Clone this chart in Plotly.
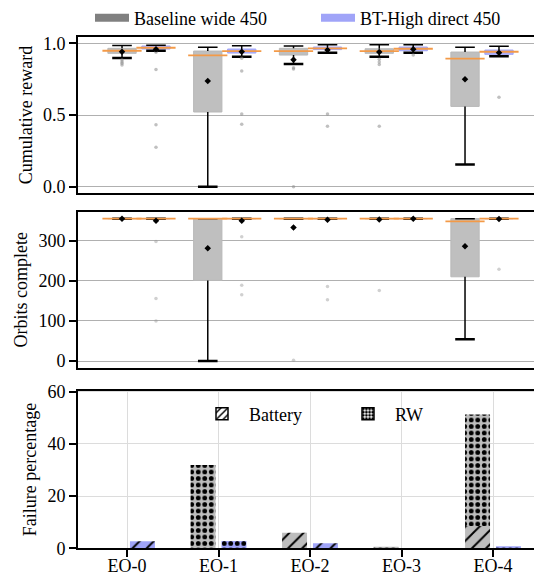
import plotly.graph_objects as go

# ---------------- data ----------------
categories = ["EO-0", "EO-1", "EO-2", "EO-3", "EO-4"]
series_names = ["Baseline wide 450", "BT-High direct 450"]

# Cumulative reward box statistics
rew_b_q1 = [0.930, 0.521, 0.918, 0.930, 0.560]
rew_b_med = [0.948, 0.916, 0.946, 0.946, 0.893]
rew_b_q3 = [0.965, 0.946, 0.965, 0.962, 0.939]
rew_b_lo = [0.897, 0.000, 0.856, 0.906, 0.155]
rew_b_hi = [0.985, 0.972, 0.981, 0.990, 0.972]
rew_b_mean = [0.941, 0.737, 0.886, 0.939, 0.750]
rew_b_fliers = [[0.883, 0.872, 0.860, 0.848], [], [0.830, 0.820, 0.0],
                [0.888, 0.870, 0.853, 0.421], []]

rew_t_q1 = [0.960, 0.932, 0.956, 0.948, 0.923]
rew_t_med = [0.969, 0.946, 0.965, 0.962, 0.941]
rew_t_q3 = [0.981, 0.960, 0.974, 0.974, 0.953]
rew_t_lo = [0.948, 0.906, 0.934, 0.934, 0.909]
rew_t_hi = [0.986, 0.983, 0.990, 0.990, 0.979]
rew_t_mean = [0.958, 0.941, 0.953, 0.958, 0.934]
rew_t_fliers = [[0.937, 0.818, 0.432, 0.275], [0.895, 0.807, 0.507, 0.435],
                [0.507, 0.421], [0.918], [0.623]]

# Orbits complete box statistics
orb_b_q1 = [355, 201, 355, 355, 210]
orb_b_med = [355, 355, 355, 355, 348]
orb_b_q3 = [355, 355, 355, 355, 355]
orb_b_lo = [355, 0, 355, 355, 54]
orb_b_hi = [355, 355, 355, 355, 355]
orb_b_mean = [355, 281, 333, 353, 286]
orb_b_fliers = [[], [], [2], [176], []]

orb_t_q1 = [355, 355, 355, 355, 355]
orb_t_med = [355, 355, 355, 355, 355]
orb_t_q3 = [355, 355, 355, 355, 355]
orb_t_lo = [355, 355, 355, 355, 355]
orb_t_hi = [355, 355, 355, 355, 355]
orb_t_mean = [350, 350, 352, 355, 354]
orb_t_fliers = [[298, 156, 100], [310, 189, 165], [186, 153], [], [229]]

# Failure percentage
battery_b = [0.0, 0.0, 6.0, 0.0, 8.5]
rw_b = [0.0, 31.9, 0.0, 0.6, 42.8]
battery_t = [2.7, 0.0, 1.9, 0.0, 0.0]
rw_t = [0.0, 2.8, 0.0, 0.0, 0.8]

# ---------------- style ----------------
W, H = 534, 578
FONT = "Liberation Serif"
GRAY_LEG = "#808080"
BLUE_LEG = "#a0a4f8"
BOX_B_FILL, BOX_B_EDGE = "#bfbfbf", "#b8b8b8"
BOX_T_FILL, BOX_T_EDGE = "rgba(150,154,246,0.8)", "#a0a4f8"
BAR_B, BAR_T = "#bdbdbd", "#a0a4f8"
ORANGE = "#f39a48"
GRID = "#b0b0b0"
GRID_L = "#dcdcdc"

BOX_OFF, BOX_W = 0.198, 0.33
BAR_OFF, BAR_W = 0.169, 0.273


def ydom(top_px, bot_px):
    return [1 - bot_px / H, 1 - top_px / H]


fig = go.Figure()
idx = list(range(len(categories)))


def add_boxes(pos, q1, med, q3, lo, hi, mean, fliers, fill, edge, xa, ya, fl_color):
    fig.add_trace(go.Bar(x=pos, y=[b - a for a, b in zip(q1, q3)], base=q1, width=BOX_W,
                         marker=dict(color=fill, line=dict(color=edge, width=1)),
                         xaxis=xa, yaxis=ya, showlegend=False, hoverinfo="skip"))
    wx, wy = [], []
    for x, a, b, l, h in zip(pos, q1, q3, lo, hi):
        wx += [x, x, None, x, x, None]
        wy += [b, h, None, a, l, None]
    fig.add_trace(go.Scatter(x=wx, y=wy, mode="lines", line=dict(color="black", width=1.5),
                             xaxis=xa, yaxis=ya, showlegend=False, hoverinfo="skip"))
    fig.add_trace(go.Scatter(x=pos, y=hi, mode="markers",
                             marker=dict(symbol="line-ew", size=14, line=dict(color="black", width=1.5)),
                             xaxis=xa, yaxis=ya, showlegend=False, hoverinfo="skip"))
    fig.add_trace(go.Scatter(x=pos, y=lo, mode="markers",
                             marker=dict(symbol="line-ew", size=14, line=dict(color="black", width=2.5)),
                             xaxis=xa, yaxis=ya, showlegend=False, hoverinfo="skip"))
    fig.add_trace(go.Scatter(x=pos, y=med, mode="markers",
                             marker=dict(symbol="line-ew", size=28, line=dict(color=ORANGE, width=1.8)),
                             xaxis=xa, yaxis=ya, showlegend=False, hoverinfo="skip"))
    fx, fy = [], []
    for x, fl in zip(pos, fliers):
        fx += [x] * len(fl)
        fy += fl
    fig.add_trace(go.Scatter(x=fx, y=fy, mode="markers",
                             marker=dict(symbol="circle", size=3.5, color=fl_color),
                             xaxis=xa, yaxis=ya, showlegend=False, hoverinfo="skip"))
    fig.add_trace(go.Scatter(x=pos, y=mean, mode="markers",
                             marker=dict(symbol="diamond", size=5, color="black"),
                             xaxis=xa, yaxis=ya, showlegend=False, hoverinfo="skip"))


pos_b = [i - BOX_OFF for i in idx]
pos_t = [i + BOX_OFF for i in idx]

add_boxes(pos_b, rew_b_q1, rew_b_med, rew_b_q3, rew_b_lo, rew_b_hi, rew_b_mean, rew_b_fliers,
          BOX_B_FILL, BOX_B_EDGE, "x", "y", "rgba(140,140,140,0.55)")
add_boxes(pos_t, rew_t_q1, rew_t_med, rew_t_q3, rew_t_lo, rew_t_hi, rew_t_mean, rew_t_fliers,
          BOX_T_FILL, BOX_T_EDGE, "x", "y", "rgba(140,140,140,0.55)")
add_boxes(pos_b, orb_b_q1, orb_b_med, orb_b_q3, orb_b_lo, orb_b_hi, orb_b_mean, orb_b_fliers,
          BOX_B_FILL, BOX_B_EDGE, "x2", "y2", "rgba(150,150,150,0.45)")
add_boxes(pos_t, orb_t_q1, orb_t_med, orb_t_q3, orb_t_lo, orb_t_hi, orb_t_mean, orb_t_fliers,
          BOX_T_FILL, BOX_T_EDGE, "x2", "y2", "rgba(150,150,150,0.45)")

# failure bars
bar_b = [i - BAR_OFF for i in idx]
bar_t = [i + BAR_OFF for i in idx]
hatch = dict(shape="/", fgcolor="black", size=10, solidity=0.2)
dots = dict(shape=".", fgcolor="black", size=6.5, solidity=0.42)
for xs, bat, rw, col in [(bar_b, battery_b, rw_b, BAR_B), (bar_t, battery_t, rw_t, BAR_T)]:
    fig.add_trace(go.Bar(x=xs, y=bat, width=BAR_W,
                         marker=dict(color=col, line=dict(width=0), pattern=dict(bgcolor=col, **hatch)),
                         xaxis="x3", yaxis="y3", showlegend=False, hoverinfo="skip"))
    fig.add_trace(go.Bar(x=xs, y=rw, base=bat, width=BAR_W,
                         marker=dict(color=col, line=dict(width=0), pattern=dict(bgcolor=col, **dots)),
                         xaxis="x3", yaxis="y3", showlegend=False, hoverinfo="skip"))

# legends
for name, col, lg in zip(series_names, [GRAY_LEG, BLUE_LEG], ["legend", "legend3"]):
    fig.add_trace(go.Scatter(x=[None], y=[None], mode="lines", name=name,
                             line=dict(color=col, width=8), xaxis="x", yaxis="y",
                             legend=lg))
fig.add_trace(go.Bar(x=[None], y=[None], name="Battery", legend="legend2",
                     marker=dict(color="white", line=dict(color="black", width=1.5),
                                 pattern=dict(shape="/", fgcolor="black", bgcolor="white", size=6, solidity=0.3)),
                     xaxis="x3", yaxis="y3"))
fig.add_trace(go.Bar(x=[None], y=[None], name="RW", legend="legend4",
                     marker=dict(color="white", line=dict(color="black", width=1.5),
                                 pattern=dict(shape=".", fgcolor="black", bgcolor="white", size=4, solidity=0.6)),
                     xaxis="x3", yaxis="y3"))

xdom = [78 / W, 1.0]
axline = dict(showline=True, linecolor="black", linewidth=1.8, zeroline=False)
tickf = dict(family=FONT, size=18, color="black")
titlef = dict(family=FONT, size=18, color="black")
legf = dict(family=FONT, size=18, color="black")


def leg(xpx, ypx, iw):
    return dict(orientation="h", x=xpx / W, xanchor="left", y=1 - ypx / H, yanchor="middle",
                bgcolor="rgba(0,0,0,0)", font=legf, itemwidth=iw)


xa_box = dict(domain=xdom, range=[(78 - 139) / 85.75, (534 - 139) / 85.75], showticklabels=False,
              ticks="", showgrid=False, mirror=True, **axline)
fig.update_layout(
    width=W, height=H, template="none",
    margin=dict(l=0, r=0, t=0, b=0, autoexpand=False),
    paper_bgcolor="white", plot_bgcolor="white",
    barmode="overlay",
    font=dict(family=FONT, size=18, color="black"),
    xaxis=dict(anchor="y", **xa_box),
    xaxis2=dict(anchor="y2", **xa_box),
    xaxis3=dict(anchor="y3", domain=xdom, range=[(78 - 127) / 91.5, (534 - 127) / 91.5],
                tickvals=idx, ticktext=categories, ticks="outside", ticklen=7, tickwidth=1.5,
                tickcolor="black", tickfont=tickf, ticklabelstandoff=-7,
                showgrid=True, gridcolor=GRID_L, gridwidth=1,
                mirror=True, **axline),
    yaxis=dict(anchor="x", domain=ydom(36.7, 193.3), range=[-0.046, 1.046],
               tickvals=[0, 0.5, 1.0], ticktext=["0.0", "0.5", "1.0"], ticks="outside",
               ticklen=7, tickwidth=1.5, tickcolor="black", tickfont=tickf,
               showgrid=True, gridcolor=GRID, gridwidth=1, mirror=False,
               title=dict(text="Cumulative reward", font=titlef, standoff=6), **axline),
    yaxis2=dict(anchor="x2", domain=ydom(211.7, 367.7), range=[-16.7, 372.3],
                tickvals=[0, 100, 200, 300], ticks="outside",
                ticklen=7, tickwidth=1.5, tickcolor="black", tickfont=tickf,
                showgrid=True, gridcolor=GRID, gridwidth=1, mirror=False,
                title=dict(text="Orbits complete", font=titlef, standoff=6), **axline),
    yaxis3=dict(anchor="x3", domain=ydom(390.7, 548.3), range=[0, 60.4],
                tickvals=[0, 20, 40, 60], ticks="outside",
                ticklen=7, tickwidth=1.5, tickcolor="black", tickfont=tickf,
                showgrid=True, gridcolor=GRID_L, gridwidth=1, mirror=False,
                title=dict(text="Failure percentage", font=titlef, standoff=6), **axline),
    legend=leg(90, 18, 34),
    legend3=leg(316, 18, 34),
    legend2=leg(195, 414, 44),
    legend4=leg(341, 414, 44),
)

fig.write_html("out.html")
